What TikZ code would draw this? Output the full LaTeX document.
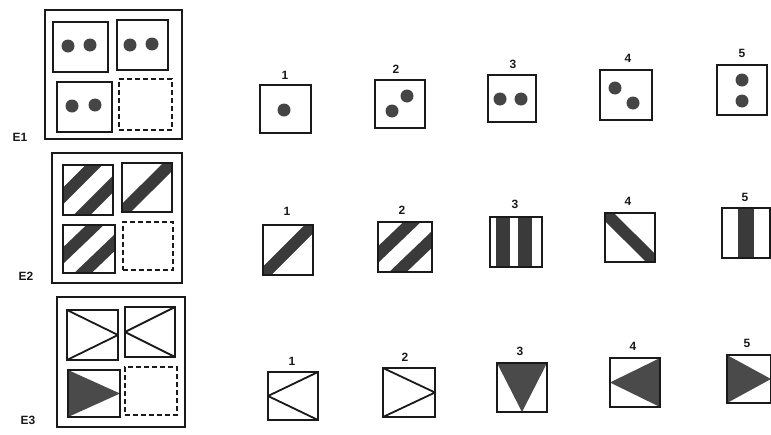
\documentclass[tikz,border=0pt]{standalone}
\usepackage{fontspec}
\setmainfont{Liberation Sans}
\usetikzlibrary{calc}
\definecolor{inkc}{HTML}{1A1A1A}
\definecolor{dotc}{HTML}{454545}
\definecolor{bandc}{HTML}{3A3A3A}
\definecolor{tric}{HTML}{4A4A4A}
\newcommand\PB{path picture bounding box}
\tikzset{
  card/.style={draw=inkc, line width=2.2pt, inner sep=0pt, fill=white},
  frame/.style={draw=inkc, line width=1.8pt, inner sep=0pt},
  blank/.style={draw=inkc, line width=2pt, dash pattern=on 5pt off 3pt, inner sep=0pt},
  dot/.style={fill=dotc},
  band/.style={draw=bandc, line width=12pt},
  lbl/.style={font=\fontsize{12}{14}\selectfont\bfseries, text=inkc, inner sep=0pt},
  elbl/.style={font=\fontsize{12}{14}\selectfont\bfseries, text=inkc, inner sep=0pt},
  oneup/.style={path picture={\draw[band] ($(\PB.south west)+(-20,20)$) -- ($(\PB.north east)+(20,-20)$);}},
  twoup/.style={path picture={\foreach \c in {-19,19}{\draw[band] ($(\PB.south west)+(\c-20,20)$) -- ($(\PB.north east)+(\c+20,-20)$);}}},
  onedown/.style={path picture={\draw[band] ($(\PB.north west)+(-20,-20)$) -- ($(\PB.south east)+(20,20)$);}},
  vbars/.style={path picture={\fill[bandc] ($(\PB.north west)+(6,-5)$) rectangle ($(\PB.south west)+(20,5)$);
                              \fill[bandc] ($(\PB.north west)+(28,-5)$) rectangle ($(\PB.south west)+(42,5)$);}},
  vbar/.style={path picture={\fill[bandc] ($(\PB.north)+(-8,-5)$) rectangle ($(\PB.south)+(8,5)$);}},
  openright/.style={path picture={\draw[inkc, line width=1.8pt] (\PB.north west) -- (\PB.east) -- (\PB.south west);}},
  openleft/.style={path picture={\draw[inkc, line width=1.8pt] (\PB.north east) -- (\PB.west) -- (\PB.south east);}},
  triright/.style={path picture={\fill[tric] (\PB.north west) -- (\PB.south west) -- (\PB.east) -- cycle;}},
  trileft/.style={path picture={\fill[tric] (\PB.north east) -- (\PB.south east) -- (\PB.west) -- cycle;}},
  tridown/.style={path picture={\fill[tric] (\PB.north west) -- (\PB.north east) -- (\PB.south) -- cycle;}},
}
\begin{document}
\begin{tikzpicture}[x=1pt,y=-1pt]
\useasboundingbox (0,0) rectangle (771,434);

% ---------- E1 ----------
\node[frame, minimum width=137, minimum height=129] (e1) at (113.5,74.5) {};
\node[card, minimum width=55, minimum height=50] (e1a) at (80.5,47) {};
\node[card, minimum width=51, minimum height=50] (e1b) at (142.5,45) {};
\node[card, minimum width=55, minimum height=50] (e1c) at (84.5,107) {};
\node[blank, minimum width=53, minimum height=51] (e1d) at (145.5,104.5) {};
\fill[dot] (68,46) circle (6.5) (90,45) circle (6.5);
\fill[dot] (130,45) circle (6.5) (152,44) circle (6.5);
\fill[dot] (72,106) circle (6.5) (95,105) circle (6.5);
\node[elbl] (e1l) at (20,137) {E1};

% ---------- E2 ----------
\node[frame, minimum width=130, minimum height=130] (e2) at (117,218) {};
\node[card, twoup, minimum width=50, minimum height=50] (e2a) at (88,190) {};
\node[card, oneup, minimum width=50, minimum height=49] (e2b) at (147,187.5) {};
\node[card, twoup, minimum width=52, minimum height=48] (e2c) at (89,249) {};
\node[blank, minimum width=50, minimum height=48] (e2d) at (148,246) {};
\node[elbl] (e2l) at (26,276) {E2};

% ---------- E3 ----------
\node[frame, minimum width=128, minimum height=130] (e3) at (121,362) {};
\node[card, openright, minimum width=51, minimum height=50] (e3a) at (92.5,335) {};
\node[card, openleft, minimum width=50, minimum height=50] (e3b) at (150,332) {};
\node[card, triright, minimum width=52, minimum height=47] (e3c) at (94,393.5) {};
\node[blank, minimum width=52, minimum height=48] (e3d) at (151,391) {};
\node[elbl] (e3l) at (28,420) {E3};

% ---------- Row 1 options ----------
\node[card, minimum width=51, minimum height=48] (a1) at (285.5,109) {};
\node[card, minimum width=50, minimum height=48] (a2) at (400,104) {};
\node[card, minimum width=48, minimum height=47] (a3) at (512,98.5) {};
\node[card, minimum width=52, minimum height=50] (a4) at (626,95) {};
\node[card, minimum width=50, minimum height=50] (a5) at (742,90) {};
\fill[dot] (284,110) circle (6.5);
\fill[dot] (392,111) circle (6.5) (407,96) circle (6.5);
\fill[dot] (500,99) circle (6.5) (521,99) circle (6.5);
\fill[dot] (615,88) circle (6.5) (633,103) circle (6.5);
\fill[dot] (742,80) circle (6.5) (742,101) circle (6.5);
\node[lbl] (a1l) at (285,75) {1};
\node[lbl] (a2l) at (396,69) {2};
\node[lbl] (a3l) at (513,64) {3};
\node[lbl] (a4l) at (628,58) {4};
\node[lbl] (a5l) at (742,53) {5};

% ---------- Row 2 options ----------
\node[card, oneup, minimum width=50, minimum height=50] (b1) at (288,250) {};
\node[card, twoup, minimum width=54, minimum height=50] (b2) at (405,247) {};
\node[card, vbars, minimum width=52, minimum height=50] (b3) at (516,242) {};
\node[card, onedown, minimum width=50, minimum height=49] (b4) at (630,237.5) {};
\node[card, vbar, minimum width=48, minimum height=50] (b5) at (746,233) {};
\node[lbl] (b1l) at (287,211) {1};
\node[lbl] (b2l) at (402,210) {2};
\node[lbl] (b3l) at (515,204) {3};
\node[lbl] (b4l) at (628,201) {4};
\node[lbl] (b5l) at (745,197) {5};

% ---------- Row 3 options ----------
\node[card, openleft, minimum width=50, minimum height=48] (c1) at (293,396) {};
\node[card, openright, minimum width=52, minimum height=49] (c2) at (409,392.5) {};
\node[card, tridown, minimum width=50, minimum height=49] (c3) at (522,387.5) {};
\node[card, trileft, minimum width=50, minimum height=49] (c4) at (635,382.5) {};
\node[card, triright, minimum width=44, minimum height=48] (c5) at (749,379) {};
\node[lbl] (c1l) at (292,361) {1};
\node[lbl] (c2l) at (405,357) {2};
\node[lbl] (c3l) at (520,351) {3};
\node[lbl] (c4l) at (633,346) {4};
\node[lbl] (c5l) at (747,343) {5};
\end{tikzpicture}
\end{document}
